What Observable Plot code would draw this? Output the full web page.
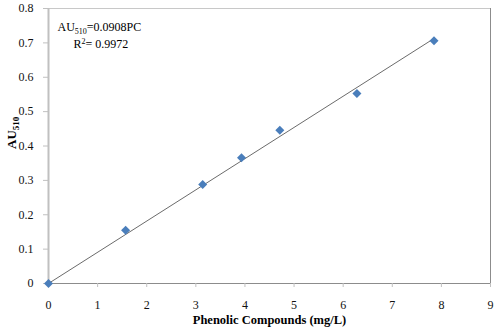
<!DOCTYPE html>
<html>
<head>
<meta charset="utf-8">
<script src="https://cdn.jsdelivr.net/npm/d3@7"></script>
<script src="https://cdn.jsdelivr.net/npm/@observablehq/plot@0.6"></script>
<style>
  html, body { margin: 0; padding: 0; background: #fff; }
  #chart svg { display: block; }
  #chart svg, #chart svg text { font-family: "Liberation Serif", "Times New Roman", Times, serif !important; }
</style>
</head>
<body>
<div id="chart"></div>
<script>
const concentration = [0, 1.57, 3.14, 3.93, 4.71, 6.28, 7.85];
const absorbance = [0, 0.155, 0.288, 0.366, 0.446, 0.553, 0.706];
const slope = 0.0908;
const rSquared = "0.9972";
const fitRange = [0, 7.85];
const xTicks = [0, 1, 2, 3, 4, 5, 6, 7, 8, 9];
const yTicks = [0, 0.1, 0.2, 0.3, 0.4, 0.5, 0.6, 0.7, 0.8];
const xLabel = "Phenolic Compounds (mg/L)";
const yLabelMain = "AU";
const yLabelSub = "510";

const points = concentration.map((x, i) => ({x, y: absorbance[i]}));
const fit = fitRange.map(x => ({x, y: slope * x}));

const chart = Plot.plot({
  width: 500,
  height: 333,
  marginLeft: 48,
  marginRight: 10,
  marginTop: 8,
  marginBottom: 50,
  style: {fontSize: "12px", background: "#fff", color: "#000"},
  x: {domain: [0, 9]},
  y: {domain: [0, 0.8]},
  marks: [
    Plot.frame({stroke: "#c8c8c8"}),
    Plot.ruleX([0], {stroke: "#c0c0c0", strokeWidth: 2}),
    Plot.ruleX([9], {stroke: "#8c8c8c"}),
    Plot.ruleY([0], {stroke: "#8c8c8c"}),
    Plot.axisX({ticks: xTicks, tickSize: 4, tickPadding: 13, stroke: "#c0c0c0", fill: "#111", tickFormat: d => String(d), label: null}),
    Plot.axisY({ticks: yTicks, tickSize: 5, tickPadding: 10, stroke: "#c0c0c0", fill: "#111", tickFormat: d => d === 0 ? "0" : d.toFixed(1), label: null}),
    Plot.line(fit, {x: "x", y: "y", stroke: "#6b6b6b", strokeWidth: 1}),
    Plot.dot(points, {x: "x", y: "y", symbol: "square", rotate: 45, r: 3.6, fill: "#4a7ebb", stroke: "none"}),
    Plot.text(["eq"], {text: d => "AU510=0.0908PC", frameAnchor: "top-left", dx: 9, dy: 14, textAnchor: "start", fontSize: 12, className: "eqlabel"}),
    Plot.text(["r2"], {text: d => "R2= " + rSquared, frameAnchor: "top-left", dx: 25, dy: 31, textAnchor: "start", fontSize: 12, className: "r2label"}),
    Plot.text([xLabel], {text: d => d, frameAnchor: "bottom", dy: 40, fontWeight: "bold", fontSize: 12.5}),
    Plot.text(["ylab"], {text: d => yLabelMain + yLabelSub, frameAnchor: "left", dx: -37, dy: 3, rotate: -90, fontWeight: "bold", fontSize: 13, className: "ylabel"})
  ]
});

const svg = d3.select(chart);
function richText(sel, parts) {
  sel.selectAll("text").each(function() {
    const t = d3.select(this);
    t.text(null);
    parts.forEach(p => {
      const ts = t.append("tspan").text(p.text);
      if (p.size) ts.attr("font-size", p.size);
      if (p.shift) ts.attr("dy", p.shift);
    });
  });
}
richText(svg.select(".eqlabel"), [
  {text: "AU"}, {text: "510", size: 8, shift: 3}, {text: "=0.0908PC", shift: -3}
]);
richText(svg.select(".r2label"), [
  {text: "R"}, {text: "2", size: 8, shift: -4}, {text: "= " + rSquared, shift: 4}
]);
richText(svg.select(".ylabel"), [
  {text: yLabelMain}, {text: yLabelSub, size: 9, shift: 3}
]);
document.getElementById("chart").appendChild(chart);
</script>
</body>
</html>
